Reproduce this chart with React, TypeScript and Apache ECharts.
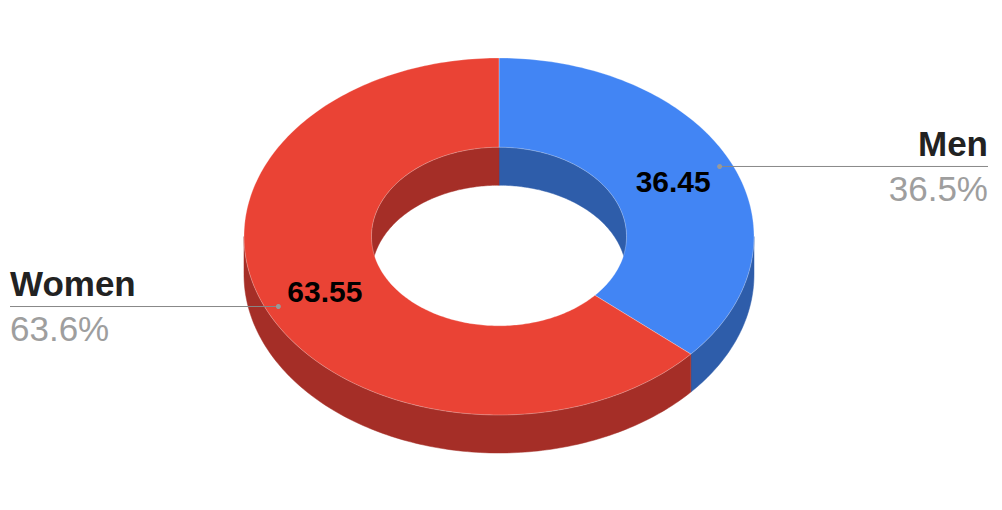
import React, { useEffect, useRef } from "react";
import * as echarts from "echarts";

const categories = ["Men", "Women"];
const values = [36.45, 63.55];
const topColors = ["#4285f4", "#ea4335"];
const sideColors = ["#2e5daa", "#a52e27"];

const FONT = "'Liberation Sans', Arial, sans-serif";

export default function App() {
  const ref = useRef<HTMLDivElement>(null);
  useEffect(() => {
    document.body.style.margin = "0";
    const chart = echarts.init(ref.current!, undefined, { renderer: "svg" });
    const total = values.reduce((a, b) => a + b, 0);

    const renderItem = (params: any, api: any) => {
      const i = params.dataIndex;
      const W = api.getWidth();
      const cx = W * 0.498;
      const cy = 236.5;
      const rx = 255;
      const ry = 178.5;
      const depth = 38;
      const inner = 0.5;
      const before = values.slice(0, i).reduce((a, b) => a + b, 0);
      const a0 = (before / total) * 360;
      const a1 = ((before + values[i]) / total) * 360;

      const pt = (theta: number, r: number, dy = 0) => {
        const t = (theta * Math.PI) / 180;
        return [cx + rx * r * Math.sin(t), cy - ry * r * Math.cos(t) + dy];
      };
      const arc = (a: number, b: number, r: number, dy = 0) => {
        const n = Math.max(2, Math.ceil(Math.abs(b - a)));
        const out: number[][] = [];
        for (let k = 0; k <= n; k++) out.push(pt(a + ((b - a) * k) / n, r, dy));
        return out;
      };
      const clip = (lo: number, hi: number) => {
        const s = Math.max(a0, lo);
        const e = Math.min(a1, hi);
        return e > s ? [s, e] : null;
      };

      const children: any[] = [];
      // inner wall (back half of the hole)
      for (const [lo, hi] of [
        [-90, 90],
        [270, 450],
      ]) {
        const c = clip(lo, hi);
        if (c) {
          const pts = arc(c[0], c[1], inner).concat(arc(c[1], c[0], inner, depth));
          children.push({
            type: "polygon",
            z2: 1,
            shape: { points: pts },
            style: { fill: sideColors[i], stroke: sideColors[i], lineWidth: 0.5 },
          });
        }
      }
      // outer wall (front half)
      {
        const c = clip(90, 270);
        if (c) {
          const pts = arc(c[0], c[1], 1).concat(arc(c[1], c[0], 1, depth));
          children.push({
            type: "polygon",
            z2: 2,
            shape: { points: pts },
            style: { fill: sideColors[i], stroke: sideColors[i], lineWidth: 0.5 },
          });
        }
      }
      // top face
      children.push({
        type: "polygon",
        z2: 3,
        shape: { points: arc(a0, a1, 1).concat(arc(a1, a0, inner)) },
        style: { fill: topColors[i], stroke: "rgba(255,255,255,0.35)", lineWidth: 0.8 },
      });

      const mid = (a0 + a1) / 2;
      const right = Math.sin((mid * Math.PI) / 180) >= 0;
      // inside value label
      const lp = pt(mid, (1 + inner) / 2);
      children.push({
        type: "text",
        z2: 10,
        x: lp[0],
        y: lp[1],
        style: {
          text: values[i].toFixed(2),
          font: `bold 30px ${FONT}`,
          fill: "#000000",
          align: "center",
          verticalAlign: "middle",
          textAlign: "center",
          textVerticalAlign: "middle",
        },
      });
      // leader line
      const dp = pt(mid, 0.95);
      const endX = right ? W - 14 : 10;
      children.push({
        type: "line",
        z2: 10,
        shape: { x1: dp[0], y1: dp[1], x2: endX, y2: dp[1] },
        style: { stroke: "#888888", lineWidth: 1 },
      });
      children.push({
        type: "circle",
        z2: 11,
        shape: { cx: dp[0], cy: dp[1], r: 2.5 },
        style: { fill: "#999999" },
      });
      const al = right ? "right" : "left";
      const pct = Math.round((values[i] / total) * 1000 + 1e-6) / 10;
      children.push({
        type: "text",
        z2: 10,
        x: endX,
        y: dp[1] - 23.4,
        style: {
          text: categories[i],
          font: `bold 35px ${FONT}`,
          fill: "#222222",
          align: al,
          verticalAlign: "middle",
          textAlign: al,
          textVerticalAlign: "middle",
        },
      });
      children.push({
        type: "text",
        z2: 10,
        x: endX,
        y: dp[1] + 21.6,
        style: {
          text: pct.toFixed(1) + "%",
          font: `35px ${FONT}`,
          fill: "#9e9e9e",
          align: al,
          verticalAlign: "middle",
          textAlign: al,
          textVerticalAlign: "middle",
        },
      });

      return { type: "group", children };
    };

    chart.setOption({
      animation: false,
      backgroundColor: "#ffffff",
      series: [
        {
          type: "custom",
          coordinateSystem: "none",
          silent: true,
          renderItem,
          data: values.map((v, i) => ({ name: categories[i], value: v })),
        },
      ],
    });
    return () => chart.dispose();
  }, []);
  return <div ref={ref} style={{ width: 1002, height: 510 }} />;
}
